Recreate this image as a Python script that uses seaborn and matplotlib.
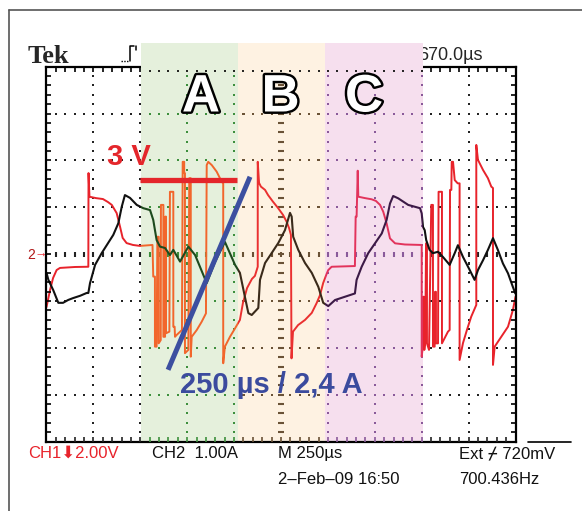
import numpy as np
import matplotlib
matplotlib.use('Agg')
import matplotlib.pyplot as plt
import matplotlib.patheffects as pe
from matplotlib.patches import Rectangle
from matplotlib.lines import Line2D
import seaborn as sns

# scope settings
US_PER_DIV = 250
V_PER_DIV = 2.0   # CH1
A_PER_DIV = 1.0   # CH2

# CH1 phase voltage (red): time in us, volts
t_ch1 = [0, 19, 35, 54, 72, 152, 223, 224, 229, 264, 301, 328, 348, 374, 392, 406, 427, 461, 498, 565,
         569, 578, 578, 587, 591, 598, 598, 609, 610, 623, 623, 632, 633, 637, 637, 655, 658, 676, 676, 683,
         685, 694, 722, 726, 734, 734, 738, 738, 756, 761, 769, 769, 774, 801, 827, 850, 854, 862, 881, 907,
         934, 942, 942, 951, 978, 1005, 1031,
         1047, 1069, 1095, 1111, 1126, 1126, 1133, 1143, 1165, 1181, 1207, 1234, 1261, 1280, 1293, 1303, 1306,
         1314, 1341, 1378, 1414, 1440, 1458, 1475, 1493,
         1502, 1520, 1644, 1648, 1653, 1659, 1662, 1698, 1733, 1756, 1778, 1795, 1813, 1831, 1858, 1911, 2000, 2000,
         2007, 2009, 2012, 2014, 2019, 2023, 2028, 2028, 2039, 2051, 2060, 2060, 2069, 2071, 2076, 2076, 2087,
         2090, 2108, 2108, 2140, 2149, 2151, 2158, 2160, 2167, 2176, 2192, 2202, 2202, 2220, 2241, 2264, 2284,
         2291, 2291, 2300, 2327, 2353, 2371, 2380, 2380, 2389, 2424, 2460, 2486, 2500]
v_ch1 = [-2.26, -1.53, -1.02, -0.68, -0.59, -0.55, -0.54, 3.46, 2.45, 2.39, 2.35, 2.22, 2.10, 1.75, 1.17, 0.69, 0.47, 0.39, 0.35, 0.39,
         -0.96, -0.96, -3.95, -3.95, 0.74, 0.74, -3.81, -3.67, 2.10, 2.10, -3.53, -3.53, 1.60, 1.60, -3.38, -3.31, 2.66, 2.66, -3.10, -3.10,
         -3.53, -3.45, -3.24, 3.94, 3.94, 3.45, 3.45, -4.23, -4.09, 3.24, 3.24, -4.38, -3.53, -3.24, -2.89, -2.53, 3.80, 3.94, 3.80, 3.52,
         3.09, 3.02, -4.66, -3.95, -3.53, -3.17, -2.81,
         -2.09, -1.45, -1.06, -0.93, -0.54, 3.94, 3.04, 2.88, 2.74, 2.52, 2.24, 1.97, 1.67, 1.38, 1.11, 0.82, -4.45,
         -3.31, -3.03, -2.81, -2.51, -2.09, -1.75, -1.23, -0.85,
         -0.68, -0.54, -0.51, 1.60, 1.60, 3.56, 2.45, 2.39, 2.34, 2.27, 2.10, 1.81, 1.31, 0.67, 0.46, 0.41, 0.39, -4.38,
         -3.88, -1.82, -1.82, -4.09, -3.67, 0.46, 0.46, -3.81, -4.09, 2.10, 2.10, -3.95, -3.95, -1.61, -1.61, -3.81, -3.81,
         2.66, 2.66, -3.81, -3.31, -3.24, 2.74, 2.74, 3.94, 3.94, 3.16, 3.02, 3.02, -4.52, -3.80, -3.24, -2.67, -2.30,
         -2.17, 4.66, 4.02, 3.59, 3.24, 2.88, 2.82, -4.73, -3.95, -3.53, -3.10, -2.39, -1.82]

# CH2 phase current (black): time in us, amps
t_ch2 = [0, 10, 36, 51, 63, 88, 115, 141, 179, 214, 223, 232, 259, 294, 321, 356, 383, 401, 418, 445,
         481, 516, 552, 569, 587, 605, 632, 658, 676, 712, 756, 792, 818, 854, 898, 951, 1005, 1031, 1058, 1076,
         1094, 1129, 1138, 1165, 1200, 1236, 1271, 1298, 1307, 1315, 1342, 1378, 1414, 1449, 1475, 1502, 1538, 1591, 1644, 1653,
         1680, 1715, 1751, 1787, 1813, 1831, 1848, 1875, 1928, 1991, 2000, 2007, 2016, 2024, 2042, 2060, 2087, 2113, 2149, 2176,
         2193, 2220, 2256, 2282, 2300, 2327, 2353, 2380, 2406, 2433, 2460, 2486, 2499]
i_ch2 = [-0.40, -0.55, -0.77, -0.92, -1.04, -1.04, -0.98, -0.94, -0.89, -0.83, -0.83, -0.62, -0.23, 0.02, 0.19, 0.41, 0.66, 1.01, 1.26, 1.20,
         1.05, 0.98, 0.94, 0.73, 0.30, 0.16, 0.13, -0.02, 0.09, -0.16, 0.16, -0.02, -0.27, -0.62, -0.17, 0.26, -0.23, -0.40, -0.92, -1.26,
         -1.30, -1.15, -0.55, -0.19, 0.02, 0.24, 0.51, 0.88, 0.80, 0.37, 0.09, -0.19, -0.40, -0.70, -1.04, -1.11, -0.98, -0.91, -0.84, -0.55,
         -0.27, 0.02, 0.23, 0.44, 0.73, 1.08, 1.24, 1.19, 1.05, 0.98, 0.87, 0.58, 0.51, 0.30, 0.09, 0.02, 0.05, -0.06, -0.23, 0.02,
         0.19, -0.06, -0.34, -0.55, -0.34, -0.13, 0.09, 0.34, 0.09, -0.20, -0.41, -0.70, -0.84]

# highlighted regions (us)
band_edges = [505, 1020, 1485, 2005]
band_names = ['A', 'B', 'C']

# annotations
level_t = [500, 1016]
level_v = [3.15, 3.15]
slope_t = [648, 1085]
slope_i = [-2.47, 1.65]

W, H = 582, 511
def fx(x):
    return x / W
def fy(y):
    return 1 - y / H

sns.set_theme(style='white')
plt.rcParams['font.family'] = ['Liberation Sans', 'DejaVu Sans']

fig = plt.figure(figsize=(W / 100, H / 100), dpi=100)
ax = fig.add_axes([fx(46.5), fy(441.5), 469 / W, 374.8 / H])
ax.set_xlim(0, 10 * US_PER_DIV)
ax.set_ylim(-4, 4)
ax.set_xticks([])
ax.set_yticks([])
for s in ax.spines.values():
    s.set_visible(True)
    s.set_color('black')
    s.set_linewidth(1.6)

fills = {'A': '#e5f0dc', 'B': '#fef2e2', 'C': '#f6dfee'}
red_c = {'out': '#e8232b', 'A': '#f2662c', 'B': '#ea3030', 'C': '#e2345c'}
blk_c = {'out': '#111111', 'A': '#1d4a1d', 'B': '#3a2a1a', 'C': '#3c1a46'}
dot_c = {'out': '#222222', 'A': '#3d8f3d', 'B': '#6a5236', 'C': '#8a5a9a'}
keys = ['out'] + band_names + ['out']

def region_colors(x, table):
    idx = np.searchsorted(band_edges, np.asarray(x), side='right')
    return [table[keys[k]] for k in idx]

# colored regions
for x0, x1, name in zip(band_edges[:-1], band_edges[1:], band_names):
    ax.add_patch(Rectangle((x0, -4), x1 - x0, 8.5, color=fills[name], lw=0, zorder=0.5, clip_on=False))
    ax.add_patch(Rectangle((x0, 3.93), x1 - x0, 0.57, color=fills[name], lw=0, zorder=2.6, clip_on=False))

# graticule
xs = np.arange(50, 10 * US_PER_DIV, 50)
ys = np.round(np.arange(-3.8, 3.9, 0.2), 2)
for y in [-3, -2, -1, 1, 2, 3]:
    ax.scatter(xs, np.full(len(xs), y), s=2.2, marker='s', c=region_colors(xs, dot_c), linewidths=0, zorder=1)
for k in [1, 2, 3, 4, 6, 7, 8, 9]:
    xv = k * US_PER_DIV
    ax.scatter(np.full(len(ys), xv), ys, s=2.2, marker='s', c=region_colors([xv] * len(ys), dot_c), linewidths=0, zorder=1)
ax.scatter(xs, np.zeros(len(xs)), s=14, marker='|', c=region_colors(xs, dot_c), linewidths=1.5, zorder=1)
ax.scatter(np.full(len(ys), 5 * US_PER_DIV), ys, s=14, marker='_', c=region_colors([5 * US_PER_DIV] * len(ys), dot_c),
           linewidths=1.5, zorder=1)

# frame ticks
ax.scatter(xs, np.full(len(xs), -4), s=11, marker=2, c=region_colors(xs, dot_c), linewidths=1.2, zorder=2.55, clip_on=False)
ax.scatter(xs, np.full(len(xs), 4), s=11, marker=3, c='black', linewidths=1.2, zorder=2.55, clip_on=False)
ax.scatter(np.zeros(len(ys)), ys, s=11, marker=1, c='black', linewidths=1.2, zorder=2.55, clip_on=False)
ax.scatter(np.full(len(ys), 10 * US_PER_DIV), ys, s=11, marker=0, c='black', linewidths=1.2, zorder=2.55, clip_on=False)

# traces, recoloured inside each region
regions = [(-100, band_edges[0], 'out')] + \
          [(a, b, n) for a, b, n in zip(band_edges[:-1], band_edges[1:], band_names)] + \
          [(band_edges[-1], 2600, 'out')]
for x0, x1, key in regions:
    sns.lineplot(x=t_ch1, y=np.array(v_ch1) / V_PER_DIV, ax=ax, color=red_c[key], lw=1.4,
                 estimator=None, sort=False, zorder=2)
    ax.lines[-1].set_clip_path(Rectangle((x0, -6), x1 - x0, 12, transform=ax.transData))
for x0, x1, key in regions:
    sns.lineplot(x=t_ch2, y=np.array(i_ch2) / A_PER_DIV, ax=ax, color=blk_c[key], lw=1.5,
                 estimator=None, sort=False, zorder=2.1)
    ax.lines[-1].set_clip_path(Rectangle((x0, -6), x1 - x0, 12, transform=ax.transData))

# hand-drawn markings
ax.plot(level_t, np.array(level_v) / V_PER_DIV, color='#e4262b', lw=3.8, solid_capstyle='butt', zorder=3)
ax.plot(slope_t, np.array(slope_i) / A_PER_DIV, color='#3c4fa0', lw=3.6, solid_capstyle='butt', zorder=3)

# texts
ax.text(fx(418), fy(60), '670.0µs', transform=fig.transFigure, size=13, zorder=0.3, clip_on=False, va='baseline')
fig.text(fx(28), fy(63), 'Tek', family='Liberation Serif', weight='bold', size=19, va='baseline')
outline = [pe.Stroke(linewidth=3.5, foreground='black'), pe.Normal()]
for name, xc in zip(band_names, [201, 280.5, 364]):
    fig.text(fx(xc), fy(111.5), name, ha='center', va='baseline', size=38, weight='bold', color='white',
             path_effects=outline)
fig.text(fx(107), fy(165), '3 V', color='#e4262b', weight='bold', size=21, va='baseline')
fig.text(fx(180), fy(393), '250 µs / 2,4 A', color='#3b4b9e', weight='bold', size=21, va='baseline')
fig.text(fx(27), fy(254.5), '2', color='#b01818', size=10, va='center')
fig.text(fx(34.5), fy(254.5), '→', color='#e8232b', size=9, weight='bold', va='center')

fig.text(fx(28), fy(458), 'CH1⬇2.00V', color='#e8232b', size=12, va='baseline')
fig.text(fx(152), fy(458), 'CH2  1.00A', size=12, va='baseline', color='#111111')
fig.text(fx(278), fy(458), 'M 250µs', size=12, va='baseline', color='#111111')
fig.text(fx(459), fy(458), 'Ext ⌿ 720mV', size=12, va='baseline', color='#111111',
         family=['Liberation Sans', 'DejaVu Sans', 'DejaVu Sans Mono'])
fig.text(fx(278), fy(484), '2–Feb–09 16:50', size=12, va='baseline', color='#111111')
fig.text(fx(459), fy(484), '700.436Hz', size=12, va='baseline', color='#111111')

# page frame, trigger icon, ext line
fig.add_artist(Line2D([fx(9), fx(9)], [fy(10), fy(511)], color='#555555', lw=1.2))
fig.add_artist(Line2D([fx(9), fx(582)], [fy(10), fy(10)], color='#555555', lw=1.2))
fig.add_artist(Line2D([fx(528), fx(571)], [fy(442), fy(442)], color='black', lw=1.2))
fig.add_artist(Line2D([fx(121), fx(129)], [fy(61.5), fy(61.5)], color='black', lw=1.0, ls=(0, (1, 1))))
fig.add_artist(Line2D([fx(130), fx(130), fx(134)], [fy(61.5), fy(46), fy(46)], color='black', lw=1.1))
fig.add_artist(Line2D([fx(136), fx(136)], [fy(46), fy(50)], color='black', lw=1.1))

fig.savefig('out.png', dpi=100)
